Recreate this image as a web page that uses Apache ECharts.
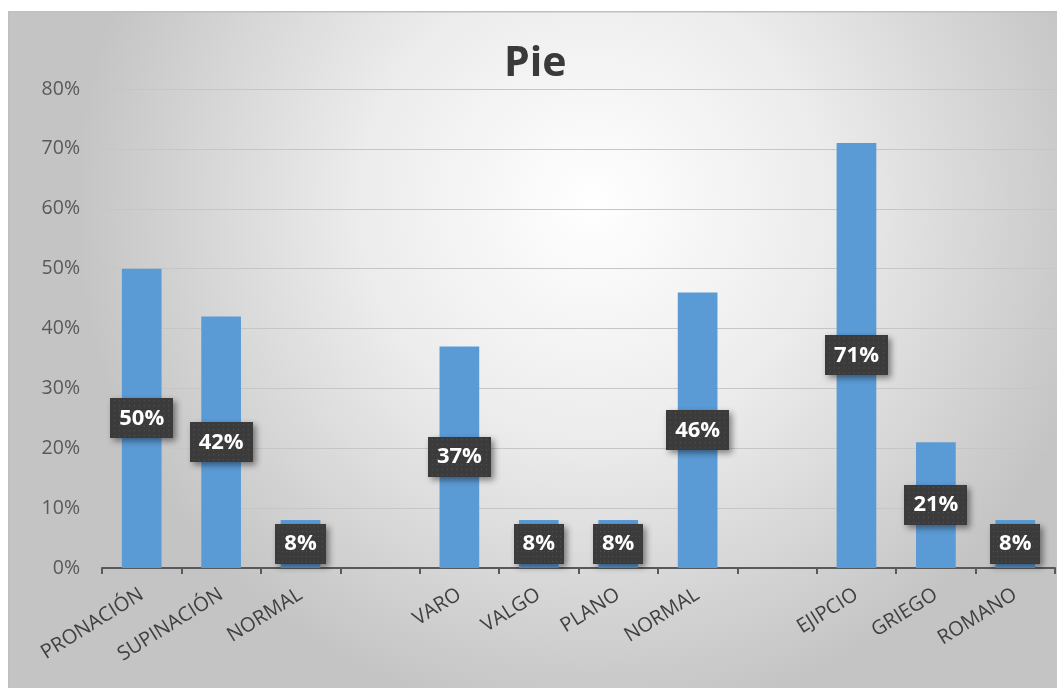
<!DOCTYPE html>
<html><head><meta charset="utf-8">
<script src="https://cdn.jsdelivr.net/npm/echarts@6/dist/echarts.min.js"></script>
<style>html,body{margin:0;padding:0;background:#fff}#c{width:1057px;height:688px}</style>
</head><body><div id="c"></div>
<script>
const title = 'Pie';
const categories = ['PRONACIÓN','SUPINACIÓN','NORMAL','','VARO','VALGO','PLANO','NORMAL','','EJIPCIO','GRIEGO','ROMANO'];
const values = [50, 42, 8, null, 37, 8, 8, 46, null, 71, 21, 8];
const yTicks = [0, 10, 20, 30, 40, 50, 60, 70, 80];

// dotted dark texture for the data label boxes
const tex = document.createElement('canvas');
tex.width = 64; tex.height = 40;
(function(){
  const g = tex.getContext('2d');
  g.fillStyle = '#3b3b3b'; g.fillRect(0, 0, 64, 40);
  g.fillStyle = '#585858';
  for (let y = 2; y < 40; y += 5) for (let x = ((y/5)%2 ? 4 : 1.5); x < 64; x += 5) g.fillRect(x, y, 1, 1);
})();

const chart = echarts.init(document.getElementById('c'), null, {renderer:'canvas'});
const font = 'Open Sans, Noto Sans, sans-serif';
chart.setOption({
  animation: false,
  graphic: [{
    type: 'rect', left: 8, top: 11, z: -10,
    shape: {width: 1060, height: 690},
    style: {
      fill: new echarts.graphic.RadialGradient(0.55, 0.28, 0.75, [
        {offset: 0, color: '#ffffff'},
        {offset: 0.45, color: '#ececec'},
        {offset: 1, color: '#c4c4c4'}
      ]),
      stroke: '#bfbfbf', lineWidth: 1.5
    }
  }],
  title: {
    text: title, left: 499, top: 39,
    textStyle: {fontFamily: font, fontWeight: 'bold', fontSize: 41, color: '#3a3a3a'}
  },
  grid: {left: 102, right: 2, top: 89, bottom: 120, containLabel: false},
  xAxis: {
    type: 'category', data: categories,
    axisLine: {lineStyle: {color: '#595959', width: 2}},
    axisTick: {show: true, length: 6, lineStyle: {color: '#595959', width: 2}},
    axisLabel: {rotate: 32, interval: 0, fontFamily: font, fontSize: 20, color: '#404040', margin: 25}
  },
  yAxis: {
    type: 'value', min: yTicks[0], max: yTicks[yTicks.length-1], interval: 10,
    axisLine: {show: false}, axisTick: {show: false},
    axisLabel: {formatter: '{value}%', fontFamily: font, fontSize: 19.5, color: '#595959', margin: 22},
    splitLine: {lineStyle: {color: '#c6c6c6', width: 1}}
  },
  series: [{
    type: 'bar', data: values, barWidth: '50%',
    itemStyle: {color: '#5b9bd5'},
    label: {
      show: true, position: 'inside',
      formatter: p => p.value + '%',
      fontFamily: font, fontWeight: 'bold', fontSize: 22, color: '#ffffff',
      backgroundColor: {image: tex}, padding: [9, 9, 9, 9],
      shadowColor: 'rgba(0,0,0,0.45)', shadowBlur: 6, shadowOffsetX: 3, shadowOffsetY: 3
    }
  }]
});
</script></body></html>
